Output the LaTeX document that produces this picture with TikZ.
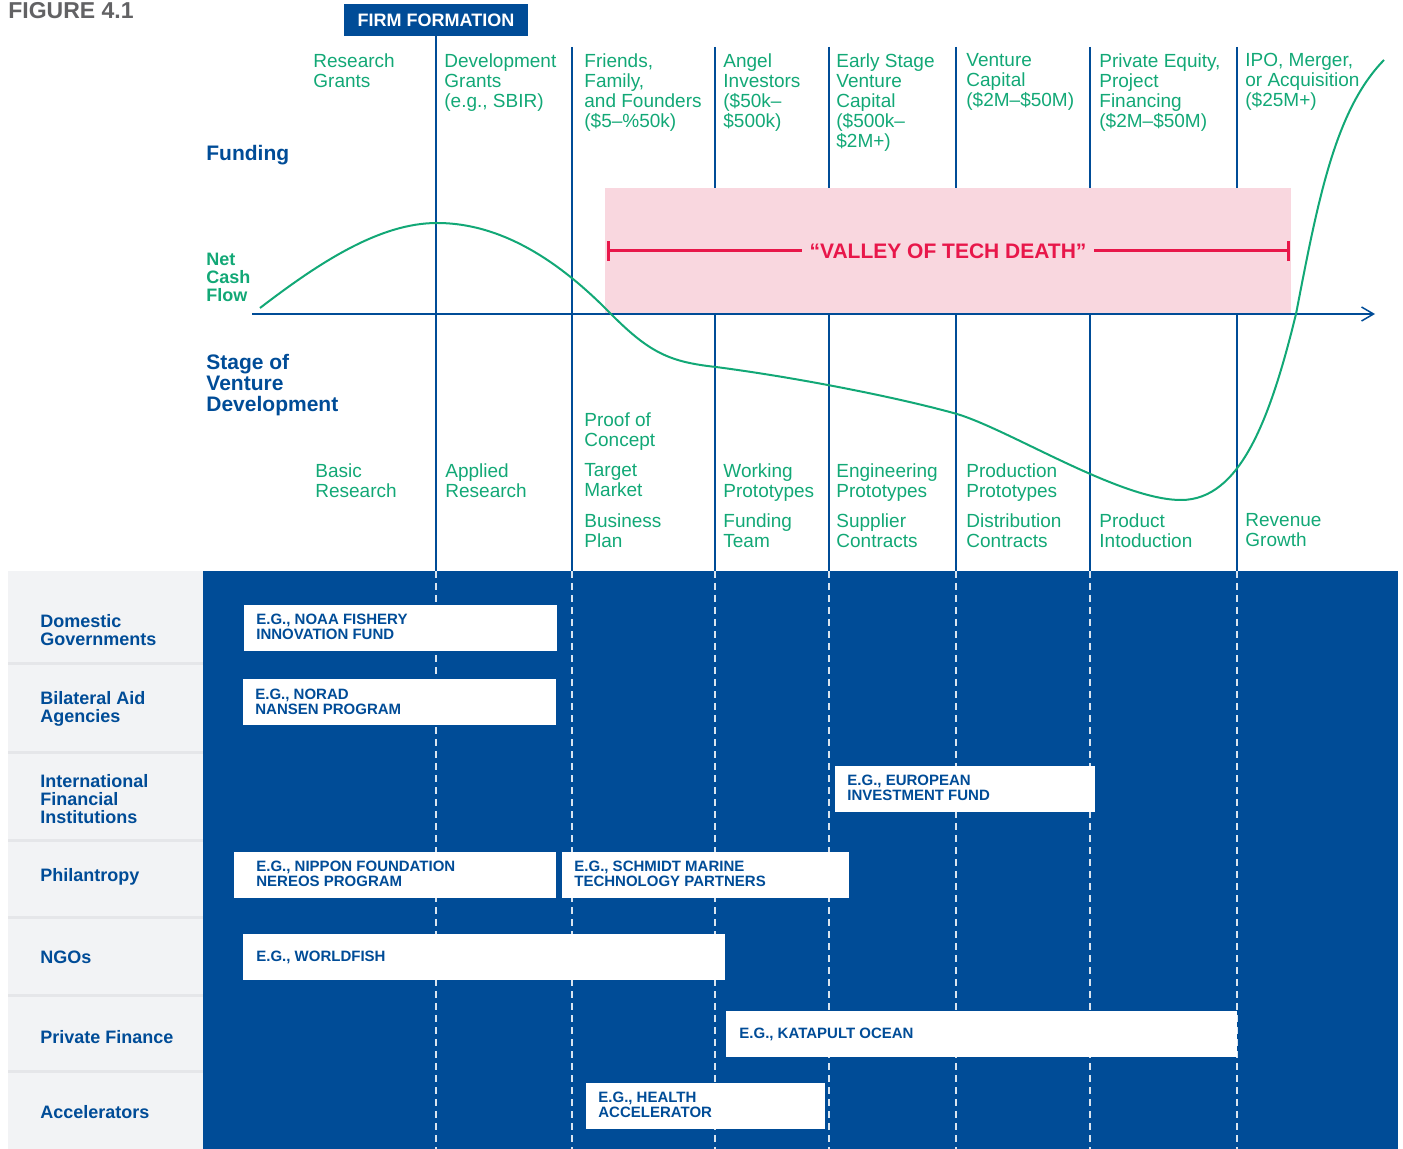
\documentclass[tikz,border=0pt]{standalone}
\usepackage{fontspec}
\setmainfont{Liberation Sans}
\usetikzlibrary{arrows.meta}
\definecolor{PanelBlau}{RGB}{0,76,151}
\definecolor{CashGreen}{RGB}{18,168,118}
\definecolor{ValleyPink}{RGB}{249,215,223}
\definecolor{ValleyRed}{RGB}{232,23,74}
\definecolor{PanelGrey}{RGB}{242,243,245}
\definecolor{RuleGrey}{RGB}{229,230,233}
\definecolor{FigGrey}{RGB}{98,98,100}

\begin{document}
\begin{tikzpicture}[x=0.5pt, y=-0.5pt, >={Straight Barb[length=6pt,width=7pt]},
  stagelbl/.style={anchor=north west, inner sep=0, align=left, text=CashGreen, font=\fontsize{9.5}{10}\selectfont},
  headlbl/.style={anchor=north west, inner sep=0, align=left, text=PanelBlau, font=\bfseries\fontsize{10.5}{10.5}\selectfont},
  rowlbl/.style={anchor=north west, inner sep=0, align=left, text=PanelBlau, font=\bfseries\fontsize{9}{9}\selectfont},
  eglbl/.style={anchor=north west, inner sep=0, align=left, text=PanelBlau, font=\bfseries\fontsize{7.5}{7.5}\selectfont},
  gridline/.style={draw=PanelBlau, line width=0.75pt},
  dashline/.style={draw=white, opacity=0.85, line width=0.75pt, dash pattern=on 3.5pt off 2.5pt},
  firmbox/.style={fill=PanelBlau, text=white, font=\bfseries\fontsize{9}{9}\selectfont, minimum width=92pt, minimum height=16pt, inner sep=0}]
\useasboundingbox (0,0) rectangle (1403,1149);

% title and firm formation
\node[anchor=north west, inner sep=0, text=FigGrey, font=\bfseries\fontsize{11.5}{11.5}\selectfont] (fig) at (8,2) {FIGURE 4.1};
\node[firmbox] (firm) at (436,20) {FIRM FORMATION};

% stage lines
\draw[gridline] (firm.south) -- (436,571);
\draw[gridline] (572,47) -- (572,571) (715,47) -- (715,571) (829,47) -- (829,571)
  (956,47) -- (956,571) (1090,47) -- (1090,571) (1237,47) -- (1237,571);

% valley
\fill[ValleyPink] (605,188) rectangle (1291,313);
\coordinate (valley-l) at (607,251);
\coordinate (valley-r) at (1290,251);
\draw[ValleyRed, line width=1.5pt, {Bar[width=10pt]}-{Bar[width=10pt]}] (valley-l) -- (valley-r);
\node[fill=ValleyPink, text=ValleyRed, inner xsep=4pt, inner ysep=1pt, font=\bfseries\fontsize{10.5}{10.5}\selectfont] (valley) at (948,251) {“VALLEY OF TECH DEATH”};

% axis and net cash flow
\coordinate (axis-o) at (252,314);
\coordinate (axis-e) at (1375,314);
\draw[gridline, ->] (axis-o) -- (axis-e);
\draw[CashGreen, line width=1pt] (260,308) .. controls (320,262) and (380,223) .. (437,223)
  .. controls (510,223) and (570,272) .. (612,315)
  .. controls (650,353) and (670,362) .. (716,367)
  .. controls (800,378) and (900,398) .. (957,414)
  .. controls (1010,430) and (1120,500) .. (1181,500)
  .. controls (1240,500) and (1270,420) .. (1296,314)
  .. controls (1318,200) and (1335,110) .. (1384,60);

% side headings
\node[headlbl] (funding) at (206,145) {Funding};
\node[headlbl, text=CashGreen, font=\bfseries\fontsize{9}{9}\selectfont] (cash) at (206,253) {Net\\Cash\\Flow};
\node[headlbl] (stage) at (206,354) {Stage of\\Venture\\Development};

% funding sources
\node[stagelbl] (f-research) at (313,53) {Research\\Grants};
\node[stagelbl] (f-devel) at (444,53) {Development\\Grants\\(e.g., SBIR)};
\node[stagelbl] (f-friends) at (584,53) {Friends,\\Family,\\and Founders\\(\$5–\%50k)};
\node[stagelbl] (f-angel) at (723,53) {Angel\\Investors\\(\$50k–\\\$500k)};
\node[stagelbl] (f-early) at (836,53) {Early Stage\\Venture\\Capital\\(\$500k–\\\$2M+)};
\node[stagelbl] (f-venture) at (966,53) {Venture\\Capital\\(\$2M–\$50M)};
\node[stagelbl] (f-equity) at (1099,53) {Private Equity,\\Project\\Financing\\(\$2M–\$50M)};
\node[stagelbl] (f-ipo) at (1245,53) {IPO, Merger,\\or Acquisition\\(\$25M+)};

% stages of development
\node[stagelbl] (s-proof) at (584,412) {Proof of\\Concept};
\node[stagelbl] (s-basic) at (315,463) {Basic\\Research};
\node[stagelbl] (s-applied) at (445,463) {Applied\\Research};
\node[stagelbl] (s-target) at (584,463) {Target\\Market};
\node[stagelbl] (s-working) at (723,463) {Working\\Prototypes};
\node[stagelbl] (s-engin) at (836,463) {Engineering\\Prototypes};
\node[stagelbl] (s-product) at (966,463) {Production\\Prototypes};
\node[stagelbl] (s-plan) at (584,513) {Business\\Plan};
\node[stagelbl] (s-team) at (723,513) {Funding\\Team};
\node[stagelbl] (s-supplier) at (836,513) {Supplier\\Contracts};
\node[stagelbl] (s-distrib) at (966,513) {Distribution\\Contracts};
\node[stagelbl] (s-intro) at (1099,513) {Product\\Intoduction};
\node[stagelbl] (s-revenue) at (1245,513) {Revenue\\Growth};

% actors panel
\fill[PanelGrey] (8,571) rectangle (203,1149);
\fill[PanelBlau] (203,571) rectangle (1398,1149);
\draw[RuleGrey, line width=1.5pt] (8,664) -- (203,664) (8,752) -- (203,752) (8,840) -- (203,840)
  (8,917) -- (203,917) (8,995) -- (203,995) (8,1071) -- (203,1071);
\draw[dashline] (436,571) -- (436,1149) (572,571) -- (572,1149) (715,571) -- (715,1149)
  (829,571) -- (829,1149) (956,571) -- (956,1149) (1090,571) -- (1090,1149) (1237,571) -- (1237,1149);

\node[rowlbl] (r-domestic) at (40,614) {Domestic\\Governments};
\node[rowlbl] (r-bilateral) at (40,691) {Bilateral Aid\\Agencies};
\node[rowlbl] (r-ifi) at (40,774) {International\\Financial\\Institutions};
\node[rowlbl] (r-phil) at (40,868) {Philantropy};
\node[rowlbl] (r-ngo) at (40,951) {NGOs};
\node[rowlbl] (r-private) at (40,1030) {Private Finance};
\node[rowlbl] (r-accel) at (40,1105) {Accelerators};

% examples
\fill[white] (244,605) rectangle (557,651);
\fill[white] (243,679) rectangle (556,725);
\fill[white] (835,766) rectangle (1095,812);
\fill[white] (234,852) rectangle (556,898);
\fill[white] (562,852) rectangle (849,898);
\fill[white] (243,934) rectangle (725,980);
\fill[white] (726,1011) rectangle (1237,1057);
\fill[white] (586,1083) rectangle (825,1129);
\node[eglbl] (e-noaa) at (256,614) {E.G., NOAA FISHERY\\INNOVATION FUND};
\node[eglbl] (e-norad) at (255,689) {E.G., NORAD\\NANSEN PROGRAM};
\node[eglbl] (e-eif) at (847,775) {E.G., EUROPEAN\\INVESTMENT FUND};
\node[eglbl] (e-nippon) at (256,861) {E.G., NIPPON FOUNDATION\\NEREOS PROGRAM};
\node[eglbl] (e-schmidt) at (574,861) {E.G., SCHMIDT MARINE\\TECHNOLOGY PARTNERS};
\node[eglbl] (e-fish) at (256,951) {E.G., WORLDFISH};
\node[eglbl] (e-katapult) at (739,1028) {E.G., KATAPULT OCEAN};
\node[eglbl] (e-health) at (598,1092) {E.G., HEALTH\\ACCELERATOR};
\end{tikzpicture}
\end{document}
